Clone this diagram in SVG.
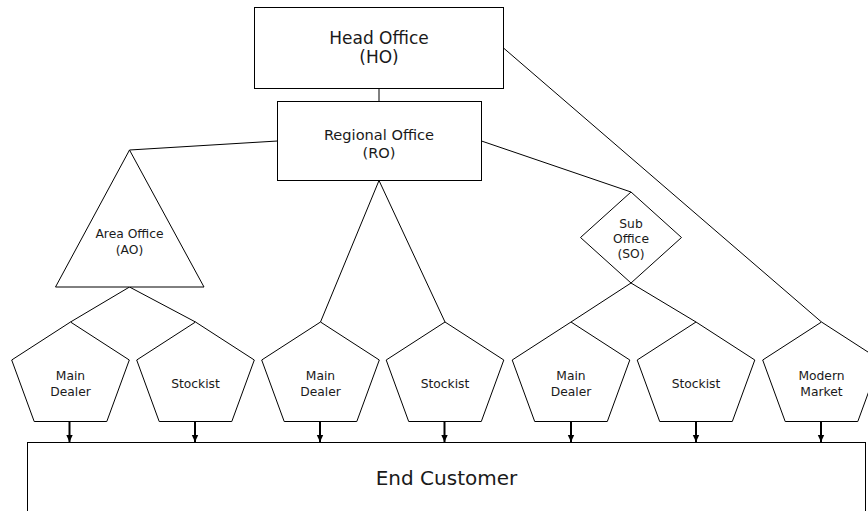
<svg xmlns="http://www.w3.org/2000/svg" width="868" height="511" viewBox="0 0 868 511">
<defs>
<style>
.shape{fill:#fff;stroke:#000;stroke-width:1}
.line{fill:none;stroke:#000;stroke-width:1}
.arrow{fill:none;stroke:#000;stroke-width:2}
text{font-family:"DejaVu Sans",Verdana,sans-serif;fill:#1a1a1a;text-anchor:middle}
.t17{font-size:17px}
.t15{font-size:14.6px}
.t20{font-size:20px}
.t12{font-size:12.3px}
</style>
<marker id="ah" markerWidth="8" markerHeight="8" refX="7" refY="4" orient="auto" markerUnits="userSpaceOnUse">
<path d="M0,0.8 L7,4 L0,7.2 Z" fill="#000"/>
</marker>
<polygon id="pent" points="0,0 58.8,38 36.3,99.5 -36.3,99.5 -58.8,38"/>
</defs>
<rect width="868" height="511" fill="#fff"/>
<g id="connectors">
<line class="line" x1="379" y1="88.5" x2="379" y2="101.5"/>
<line class="line" x1="277.5" y1="141" x2="129.5" y2="150"/>
<line class="line" x1="379" y1="180.5" x2="320.5" y2="322"/>
<line class="line" x1="379" y1="180.5" x2="445" y2="322"/>
<line class="line" x1="481.5" y1="141" x2="631" y2="192"/>
<line class="line" x1="503.5" y1="48" x2="821.5" y2="322"/>
<line class="line" x1="129.5" y1="287" x2="70.5" y2="322"/>
<line class="line" x1="129.5" y1="287" x2="195.5" y2="322"/>
<line class="line" x1="631" y1="283" x2="571" y2="322"/>
<line class="line" x1="631" y1="283" x2="696" y2="322"/>
<line class="arrow" x1="69.5" y1="421.5" x2="69.5" y2="442" marker-end="url(#ah)"/>
<line class="arrow" x1="195" y1="421.5" x2="195" y2="442" marker-end="url(#ah)"/>
<line class="arrow" x1="320" y1="421.5" x2="320" y2="442" marker-end="url(#ah)"/>
<line class="arrow" x1="444.5" y1="421.5" x2="444.5" y2="442" marker-end="url(#ah)"/>
<line class="arrow" x1="571" y1="421.5" x2="571" y2="442" marker-end="url(#ah)"/>
<line class="arrow" x1="696" y1="421.5" x2="696" y2="442" marker-end="url(#ah)"/>
<line class="arrow" x1="821" y1="421.5" x2="821" y2="442" marker-end="url(#ah)"/>
</g>
<g id="head-office">
<rect class="shape" x="254.5" y="7.5" width="249" height="81"/>
<text class="t17" x="379" y="44">Head Office</text>
<text class="t17" x="379" y="63">(HO)</text>
</g>
<g id="regional-office">
<rect class="shape" x="277.5" y="101.5" width="204" height="79"/>
<text class="t15" x="379" y="140">Regional Office</text>
<text class="t15" x="379" y="158">(RO)</text>
</g>
<g id="area-office">
<polygon class="shape" points="129.5,150 55.5,287 204,287"/>
<text class="t12" x="129.5" y="238">Area Office</text>
<text class="t12" x="129.5" y="254">(AO)</text>
</g>
<g id="sub-office">
<polygon class="shape" points="631,192 681.5,237.5 631,283 580.5,237.5"/>
<text class="t12" x="631" y="228">Sub</text>
<text class="t12" x="631" y="243">Office</text>
<text class="t12" x="631" y="258">(SO)</text>
</g>
<g id="main-dealer-1">
<use href="#pent" class="shape" x="70.5" y="322"/>
<text class="t12" x="70.5" y="380">Main</text>
<text class="t12" x="70.5" y="396">Dealer</text>
</g>
<g id="stockist-1">
<use href="#pent" class="shape" x="195.5" y="322"/>
<text class="t12" x="195.5" y="388">Stockist</text>
</g>
<g id="main-dealer-2">
<use href="#pent" class="shape" x="320.5" y="322"/>
<text class="t12" x="320.5" y="380">Main</text>
<text class="t12" x="320.5" y="396">Dealer</text>
</g>
<g id="stockist-2">
<use href="#pent" class="shape" x="445" y="322"/>
<text class="t12" x="445" y="388">Stockist</text>
</g>
<g id="main-dealer-3">
<use href="#pent" class="shape" x="571" y="322"/>
<text class="t12" x="571" y="380">Main</text>
<text class="t12" x="571" y="396">Dealer</text>
</g>
<g id="stockist-3">
<use href="#pent" class="shape" x="696" y="322"/>
<text class="t12" x="696" y="388">Stockist</text>
</g>
<g id="modern-market">
<use href="#pent" class="shape" x="821.5" y="322"/>
<text class="t12" x="821.5" y="380">Modern</text>
<text class="t12" x="821.5" y="396">Market</text>
</g>
<g id="end-customer">
<rect class="shape" x="27.5" y="442.5" width="838" height="80"/>
<text class="t20" x="446.5" y="485">End Customer</text>
</g>
</svg>
